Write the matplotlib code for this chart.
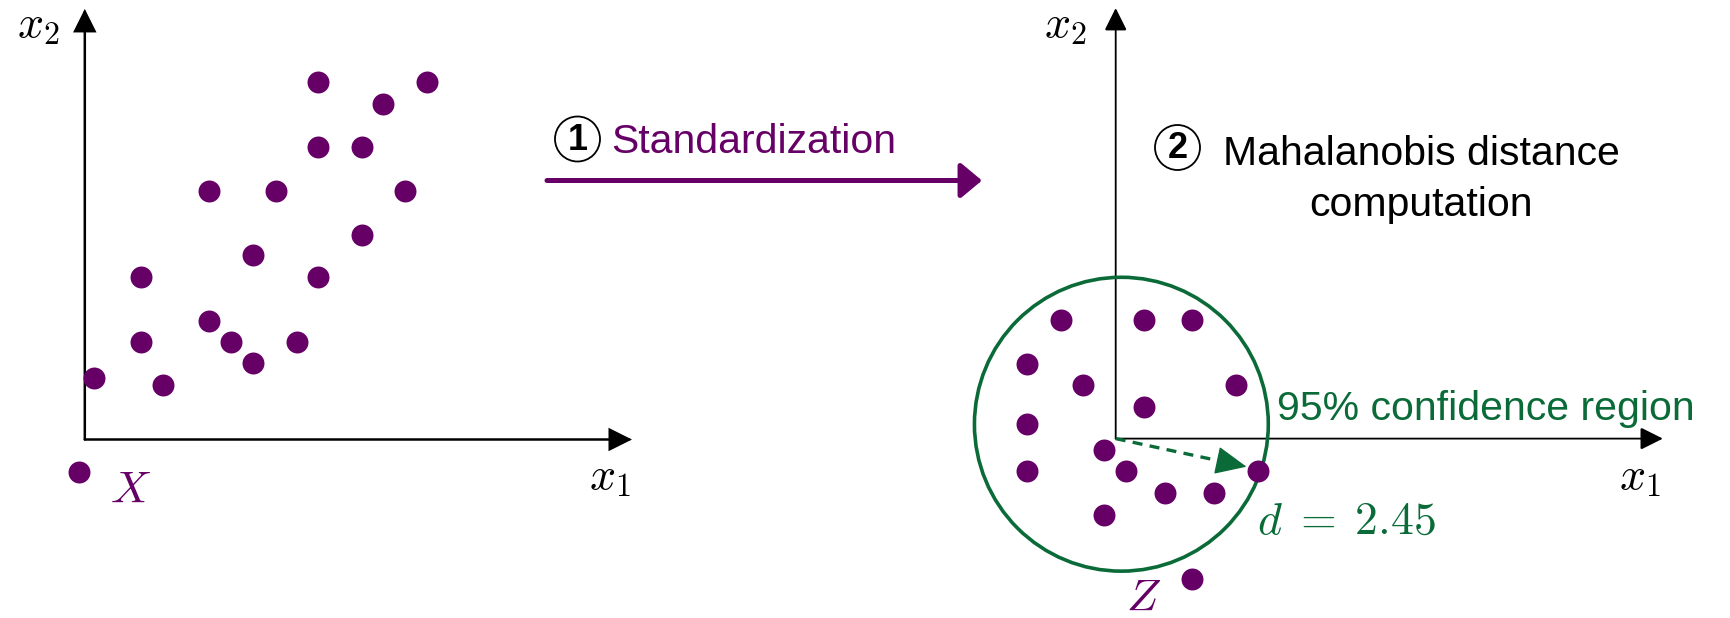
import numpy as np
import matplotlib
matplotlib.use("Agg")
import matplotlib.pyplot as plt
from matplotlib.patches import Circle, FancyArrowPatch, ArrowStyle

plt.rcParams['font.family'] = ['Liberation Sans', 'DejaVu Sans', 'Noto Sans CJK JP']
plt.rcParams['mathtext.fontset'] = 'cm'

# ---- data (diagram units) ----
# raw data X
x1_raw = [10.7, 15.7, 13.7, 10.7, 12.7, 5.7, 8.75, 14.7, 12.7, 7.7,
          2.6, 10.7, 5.7, 2.6, 6.7, 9.75, 7.7, 0.4, 3.6, -0.28]
x2_raw = [16.4, 16.4, 15.4, 13.4, 13.4, 11.4, 11.4, 11.4, 9.4, 8.45,
          7.45, 7.45, 5.45, 4.45, 4.45, 4.45, 3.5, 2.8, 2.5, -1.5]
# standardized data Z
z1 = [-2.53, 1.29, 3.48, -4.06, -1.5, 5.5, 1.29, -4.06, -0.53, -4.06,
      0.49, 6.52, 2.28, 4.5, -0.53, 3.48]
z2 = [5.42, 5.42, 5.42, 3.43, 2.44, 2.44, 1.46, 0.65, -0.53, -1.5,
      -1.5, -1.5, -2.48, -2.48, -3.49, -6.45]
region_center = (0.26, 0.66)
region_radius = 6.74
outlier = np.array([6.0, -1.29])   # arrow tip next to the far point
d_label = r"$d\;=\;2.45$"
steps = ["1", "2"]

purple = "#660066"
green = "#0b6b38"

W, H = 1731, 618
unit = 21.8  # px per unit
fig = plt.figure(figsize=(W / 100, H / 100), dpi=100)

canvas = fig.add_axes([0, 0, 1, 1])
canvas.set_xlim(0, W)
canvas.set_ylim(H, 0)
canvas.axis('off')


def panel(ox, oy):
    a = fig.add_axes([0, 0, 1, 1], label=f"p{ox}")
    a.set_xlim(-ox / unit, (W - ox) / unit)
    a.set_ylim((oy - H) / unit, oy / unit)
    a.axis('off')
    a.patch.set_alpha(0)
    return a


def axis_arrows(a, lw):
    st = ArrowStyle('-|>', head_length=14, head_width=7)
    for end in [(25.1, 0), (0, 19.75)]:
        a.add_patch(FancyArrowPatch((0, 0), end, arrowstyle=st, mutation_scale=1,
                                    lw=lw, color='black', shrinkA=0, shrinkB=0,
                                    joinstyle='miter'))


def step_badge(x, y, label):
    canvas.add_patch(Circle((x, y), 22.5, fill=False, ec='black', lw=1.3))
    canvas.text(x, y + 1, label, fontsize=26, fontweight='bold', ha='center', va='center')


# left panel
axL = panel(84.8, 439.5)
axis_arrows(axL, 1.8)
axL.scatter(x1_raw, x2_raw, s=250, color=purple, linewidths=0, zorder=3)

# right panel
axR = panel(1115.7, 438.6)
axis_arrows(axR, 1.3)
axR.add_patch(Circle(region_center, region_radius, fill=False, ec=green, lw=2.6))
axR.scatter(z1, z2, s=250, color=purple, linewidths=0, zorder=3)
# dashed distance arrow
base = outlier * 0.84
axR.plot([0, base[0]], [0, base[1]], color=green, lw=2.4, dashes=(3, 2.2), zorder=4)
axR.add_patch(FancyArrowPatch(outlier * 0.78, outlier,
                              arrowstyle=ArrowStyle('-|>', head_length=20, head_width=9),
                              mutation_scale=1, lw=1, color=green,
                              shrinkA=0, shrinkB=0, zorder=4))

# axis labels
ms = 33
canvas.text(38, 25, r"$x_2$", fontsize=ms, ha='center', va='center')
canvas.text(610, 477, r"$x_1$", fontsize=ms, ha='center', va='center')
canvas.text(1065, 25, r"$x_2$", fontsize=ms, ha='center', va='center')
canvas.text(1640, 477, r"$x_1$", fontsize=ms, ha='center', va='center')
canvas.text(131, 491, r"$X$", fontsize=ms, ha='center', va='center', color=purple)
canvas.text(1144, 599, r"$Z$", fontsize=ms, ha='center', va='center', color=purple)
canvas.text(1347, 522, d_label, fontsize=ms, ha='center', va='center', color=green)

# step 1
canvas.add_patch(FancyArrowPatch((547, 180.5), (982, 180.5),
                                 arrowstyle=ArrowStyle('-|>', head_length=13, head_width=10.8),
                                 mutation_scale=1, lw=3.6, color=purple, shrinkA=0, shrinkB=0))
fs = 29.5
step_badge(577.5, 139, steps[0])
canvas.text(611, 153, "Standardization", fontsize=fs, color=purple, va='baseline')

# step 2
step_badge(1177.5, 147.5, steps[1])
canvas.text(1421, 165, "Mahalanobis distance", fontsize=fs, ha='center', va='baseline')
canvas.text(1421, 216, "computation", fontsize=fs, ha='center', va='baseline')
canvas.text(1277, 420, "95% confidence region", fontsize=fs, color=green, va='baseline')

fig.savefig("out.png", dpi=100)
